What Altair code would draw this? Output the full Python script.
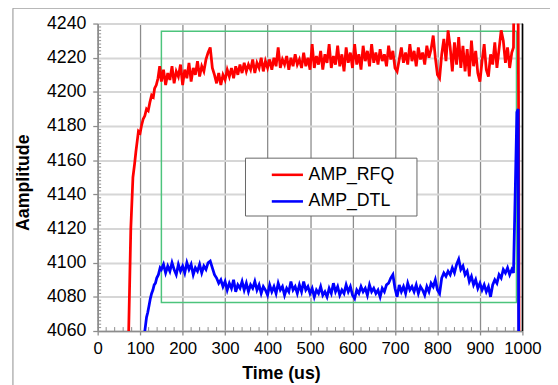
import altair as alt
import pandas as pd

FONT = "Liberation Sans"

# ---- AMP_RFQ (red) ----
red_ramp_t = [60, 73, 78, 83, 87, 90, 96, 100, 103, 107, 111, 115, 119, 123, 127, 131, 134, 138, 142, 146]
red_ramp_v = [3950, 4060, 4120, 4150, 4158, 4165, 4177, 4176, 4180, 4184, 4186, 4190, 4189, 4194, 4198, 4197, 4202, 4204, 4208, 4215]
red_body_v = [
    4206, 4213, 4204, 4211, 4207, 4215, 4205, 4212, 4209, 4216,
    4204, 4213, 4208, 4217, 4206, 4214, 4210, 4218, 4209, 4215,
    4212, 4219, 4223, 4226, 4214, 4210, 4205, 4211, 4204, 4210,
    4207, 4213, 4209, 4214, 4208, 4215, 4210, 4216, 4211, 4217,
    4212, 4216, 4213, 4219, 4211, 4217, 4214, 4220, 4212, 4218,
    4214, 4219, 4213, 4220, 4215, 4226, 4214, 4219, 4216, 4221,
    4213, 4220, 4215, 4222, 4216, 4219, 4214, 4223, 4215, 4220,
    4213, 4228, 4214, 4221, 4216, 4224, 4213, 4222, 4217, 4228,
    4214, 4221, 4216, 4227, 4215, 4222, 4212, 4226, 4217, 4223,
    4214, 4228, 4216, 4222, 4213, 4227, 4218, 4224, 4215, 4228,
    4217, 4223, 4216, 4225, 4218, 4222, 4215, 4227, 4219, 4224,
    4214, 4212, 4219, 4226, 4217, 4223, 4216, 4228, 4218, 4224,
    4215, 4226, 4219, 4223, 4216, 4227, 4220, 4225, 4233, 4220,
    4210, 4208, 4222, 4231, 4218, 4236, 4226, 4212, 4229, 4216,
    4232, 4214, 4227, 4212, 4225, 4209, 4230, 4215, 4224, 4211,
    4206, 4218, 4228, 4213, 4209, 4222, 4216, 4229, 4214, 4225,
    4236, 4230, 4217, 4226, 4214, 4223,
]
red_tail_t = [979, 981, 989, 991, 993]
red_tail_v = [4226, 4300, 4300, 4188, 3950]

# ---- AMP_DTL (blue) ----
blue_ramp_t = [95, 111, 115, 118, 121, 124, 127, 130, 133, 136, 139, 143, 147]
blue_ramp_v = [3980, 4060, 4068, 4071, 4075, 4079, 4082, 4084, 4087, 4088, 4091, 4093, 4097]
blue_body_v = [
    4096, 4099, 4094, 4098, 4095, 4100, 4096, 4093, 4099, 4095,
    4098, 4094, 4100, 4096, 4099, 4093, 4097, 4095, 4099, 4094,
    4098, 4096, 4100, 4101, 4097, 4093, 4091, 4088, 4090, 4086,
    4089, 4084, 4088, 4085, 4090, 4083, 4087, 4085, 4089, 4084,
    4088, 4083, 4087, 4085, 4089, 4084, 4087, 4082, 4086, 4084,
    4081, 4087, 4083, 4086, 4082, 4088, 4084, 4086, 4081, 4085,
    4083, 4089, 4084, 4086, 4082, 4087, 4083, 4089, 4084, 4086,
    4082, 4085, 4080, 4084, 4082, 4086, 4081, 4083, 4080, 4085,
    4082, 4088, 4083, 4086, 4081, 4084, 4082, 4087, 4083, 4086,
    4081, 4079, 4084, 4082, 4086, 4083, 4085, 4081, 4087, 4083,
    4085, 4082, 4084, 4080, 4085, 4083, 4087, 4088, 4091, 4093,
    4085, 4080, 4087, 4083, 4086, 4082, 4088, 4084, 4086, 4083,
    4087, 4082, 4086, 4084, 4081, 4086, 4083, 4088, 4086, 4090,
    4084, 4082, 4091, 4094, 4092, 4095, 4093, 4097, 4094, 4099,
    4102, 4096, 4098, 4093, 4095, 4089, 4092, 4087, 4090, 4085,
    4088, 4084, 4087, 4083, 4086, 4080, 4087, 4090, 4088, 4093,
    4091, 4096, 4094, 4097, 4093, 4096,
]
blue_tail_t = [979, 983, 987, 990, 992]
blue_tail_v = [4094, 4140, 4188, 4190, 3950]

body_t = list(range(150, 980, 5))

# Green reference window
box_t = [150]
box_t2 = [986]
box_v = [4076.7]
box_v2 = [4235.5]

x_ticks = [0, 100, 200, 300, 400, 500, 600, 700, 800, 900, 1000]
y_ticks = [4060, 4080, 4100, 4120, 4140, 4160, 4180, 4200, 4220, 4240]
x_minor = [t for t in range(20, 1000, 20) if t % 100 != 0]
y_minor = [v for v in range(4062, 4240, 2) if v % 20 != 0]

W, H = 431, 312

red_df = pd.DataFrame({
    "t": red_ramp_t + body_t + red_tail_t,
    "v": red_ramp_v + red_body_v + red_tail_v,
    "s": "AMP_RFQ",
})
blue_df = pd.DataFrame({
    "t": blue_ramp_t + body_t + blue_tail_t,
    "v": blue_ramp_v + blue_body_v + blue_tail_v,
    "s": "AMP_DTL",
})

xscale = alt.Scale(domain=[0, 1000], nice=False, zero=False)
yscale = alt.Scale(domain=[4060, 4240], nice=False, zero=False)
cscale = alt.Scale(domain=["AMP_RFQ", "AMP_DTL"], range=["#ff0000", "#0000ff"])


def X(field="t"):
    return alt.X(f"{field}:Q", scale=xscale,
                 axis=alt.Axis(values=x_ticks, format="d", titleX=186, titleY=48,
                               titleBaseline="alphabetic", gridColor="#8c8c8c", gridWidth=1.3,
                               labelPadding=6, labelFontSize=17),
                 title="Time (us)")


def Y(field="v"):
    return alt.Y(f"{field}:Q", scale=yscale,
                 axis=alt.Axis(values=y_ticks, format="d", titleX=-66, titleY=161,
                               gridColor="#d6d6d6", gridWidth=2, tickSize=5, labelPadding=7,
                               labelFontSize=18),
                 title="Aamplitude")


legend = alt.Legend(
    orient="none", legendX=175, legendY=136, direction="vertical", title=None,
    symbolType="stroke", symbolSize=1000, symbolStrokeWidth=2.6,
    labelFont=FONT, labelFontSize=18, labelColor="black", labelOffset=4,
    padding=0, rowPadding=0, offset=0,
)

one = pd.DataFrame({"a": [0]})

box = alt.Chart(pd.DataFrame({"t": box_t, "t2": box_t2, "v": box_v, "v2": box_v2})).mark_rect(
    fillOpacity=0, stroke="#4cc47c", strokeWidth=1.5
).encode(x=X(), x2="t2:Q", y=Y(), y2="v2:Q")

legend_box = alt.Chart(one).mark_rect(fill="white", stroke="#666666", strokeWidth=1).encode(
    x=alt.value(150), x2=alt.value(324), y=alt.value(136.6), y2=alt.value(195.3)
)

yminor = alt.Chart(pd.DataFrame({"v": y_minor})).mark_rule(color="#8c8c8c", strokeWidth=1).encode(
    y=Y(), x=alt.value(0), x2=alt.value(3.5)
)
xminor = alt.Chart(pd.DataFrame({"t": x_minor})).mark_rule(color="#8c8c8c", strokeWidth=1).encode(
    x=X(), y=alt.value(H), y2=alt.value(H - 4)
)

red = alt.Chart(red_df).mark_line(strokeWidth=2.8, clip=True).encode(
    x=X(), y=Y(), color=alt.Color("s:N", scale=cscale, legend=legend),
)
blue = alt.Chart(blue_df).mark_line(strokeWidth=2.8, clip=True).encode(
    x=X(), y=Y(), color=alt.Color("s:N", scale=cscale, legend=legend),
)

right_border = alt.Chart(one).mark_rule(color="black", strokeWidth=1.5).encode(
    x=alt.value(W), y=alt.value(0), y2=alt.value(H)
)
frame_left = alt.Chart(one).mark_rule(color="#a0a0a0", strokeWidth=1.2).encode(
    x=alt.value(-86), y=alt.value(-15.5), y2=alt.value(370)
)
frame_top = alt.Chart(one).mark_rule(color="#a0a0a0", strokeWidth=1.2).encode(
    x=alt.value(-86), x2=alt.value(470), y=alt.value(-15.5)
)

chart = alt.layer(
    box, legend_box, yminor, xminor, red, blue, right_border, frame_left, frame_top
).properties(
    width=W, height=H,
    autosize=alt.AutoSizeParams(type="none"),
    padding={"left": 91, "top": 13, "right": 28, "bottom": 52},
).configure_view(
    stroke=None
).configure_axis(
    grid=True, domainColor="#8c8c8c", domainWidth=1.5, tickColor="#8c8c8c", tickWidth=1.3,
    tickSize=4, labelFont=FONT, labelFontSize=17, labelColor="black", labelPadding=4,
    labelFlush=False, labelOverlap=False,
    titleFont=FONT, titleFontSize=18, titleFontWeight="bold", titleColor="black",
)

chart.save("out.html", embed_options={"renderer": "svg", "actions": False})
